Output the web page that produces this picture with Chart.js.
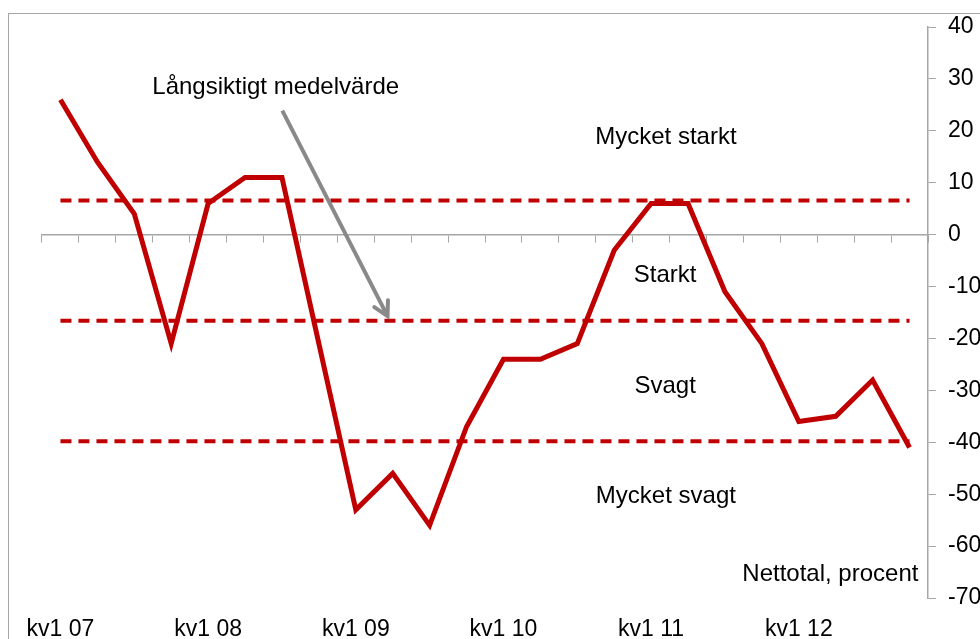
<!DOCTYPE html>
<html>
<head>
<meta charset="utf-8">
<script src="https://cdn.jsdelivr.net/npm/chart.js@4"></script>
<style>
  html, body { margin: 0; padding: 0; background: #fff; }
  #wrap { width: 980px; height: 639px; }
</style>
</head>
<body>
<div id="wrap"><canvas id="chart" width="980" height="639"></canvas></div>
<script>
// kvartal, 2007-2012
var quarters = ['kv1 07','kv2 07','kv3 07','kv4 07','kv1 08','kv2 08','kv3 08','kv4 08',
                'kv1 09','kv2 09','kv3 09','kv4 09','kv1 10','kv2 10','kv3 10','kv4 10',
                'kv1 11','kv2 11','kv3 11','kv4 11','kv1 12','kv2 12','kv3 12','kv4 12'];
// nettotal, procent
var nettotal = [26, 14, 4, -21, 6, 11, 11, -21, -53, -46, -56, -37,
                -24, -24, -21, -3, 6, 6, -11, -21, -36, -35, -28, -41];
// langsiktigt medelvarde +/- en standardavvikelse
var overGrans = 6.6;
var medel = -16.6;
var underGrans = -39.8;
var yTicks = { min: -70, max: 40, step: 10 };

var rod = '#C00000';
var gra = '#a6a6a6';
var textFont = '24px "Liberation Sans", Arial, sans-serif';

// texter i diagrammet: [text, kategori-index, varde, justering]
var notes = [
  ['Långsiktigt medelvärde', 5.83, 28.4, 'center'],
  ['Mycket starkt', 16.4, 18.8, 'center'],
  ['Starkt', 16.38, -7.9, 'center'],
  ['Svagt', 16.38, -29.2, 'center'],
  ['Mycket svagt', 16.4, -50.5, 'center'],
  ['Nettotal, procent', 23.24, -65.4, 'right']
];
// pil fran texten ner till medelvardet
var pil = { fran: [6.01, 23.9], till: [8.86, -15.7] };

var notePlugin = {
  id: 'notes',
  beforeDraw: function (chart) {
    var ctx = chart.ctx;
    ctx.save();
    ctx.strokeStyle = gra;
    ctx.lineWidth = 1;
    ctx.strokeRect(8.5, 13.5, 1200, 1000);
    ctx.restore();
  },
  afterDatasetsDraw: function (chart) {
    var ctx = chart.ctx;
    var x = chart.scales.x, y = chart.scales.y;
    ctx.save();
    // pilen
    var x1 = x.getPixelForValue(pil.fran[0]), y1 = y.getPixelForValue(pil.fran[1]);
    var x2 = x.getPixelForValue(pil.till[0]), y2 = y.getPixelForValue(pil.till[1]);
    ctx.strokeStyle = '#898989';
    ctx.lineWidth = 4;
    ctx.lineCap = 'butt';
    ctx.beginPath();
    ctx.moveTo(x1, y1);
    ctx.lineTo(x2, y2);
    ctx.stroke();
    var ang = Math.atan2(y2 - y1, x2 - x1);
    var len = 16;
    ctx.lineCap = 'round';
    ctx.beginPath();
    ctx.moveTo(x2 - len * Math.cos(ang - 0.5), y2 - len * Math.sin(ang - 0.5));
    ctx.lineTo(x2, y2);
    ctx.lineTo(x2 - len * Math.cos(ang + 0.5), y2 - len * Math.sin(ang + 0.5));
    ctx.stroke();
    // texterna
    ctx.fillStyle = '#000';
    ctx.font = textFont;
    ctx.textBaseline = 'middle';
    notes.forEach(function (n) {
      ctx.textAlign = n[3];
      ctx.fillText(n[0], x.getPixelForValue(n[1]), y.getPixelForValue(n[2]));
    });
    ctx.restore();
  }
};

var ctx = document.getElementById('chart');
new Chart(ctx, {
  type: 'line',
  data: {
    labels: quarters,
    datasets: [
      { data: quarters.map(function () { return overGrans; }), borderColor: rod, borderWidth: 4, borderDash: [11, 7], pointRadius: 0 },
      { data: quarters.map(function () { return medel; }), borderColor: rod, borderWidth: 4, borderDash: [11, 7], pointRadius: 0 },
      { data: quarters.map(function () { return underGrans; }), borderColor: rod, borderWidth: 4, borderDash: [11, 7], pointRadius: 0 },
      { label: 'Nettotal', data: nettotal, borderColor: rod, borderWidth: 5, pointRadius: 0, tension: 0, borderJoinStyle: 'miter' }
    ]
  },
  options: {
    responsive: false,
    animation: false,
    layout: { padding: { left: 42, top: 27, right: 0, bottom: 0 } },
    plugins: { legend: { display: false }, tooltip: { enabled: false } },
    scales: {
      x: {
        type: 'category',
        position: 'bottom',
        offset: true,
        grid: { display: false },
        border: { display: false },
        afterFit: function (s) { s.height = 41; },
        ticks: {
          autoSkip: false,
          maxRotation: 0,
          padding: 10,
          color: '#000',
          font: { family: '"Liberation Sans", Arial, sans-serif', size: 23 },
          callback: function (v, i) { return i % 4 === 0 ? quarters[i] : ''; }
        }
      },
      x0: {
        type: 'category',
        position: { y: 0 },
        offset: true,
        grid: { offset: true, drawOnChartArea: false, tickLength: 7, color: gra, lineWidth: 1 },
        border: { color: gra, width: 1.5 },
        ticks: { display: false }
      },
      y: {
        position: 'right',
        min: yTicks.min,
        max: yTicks.max,
        afterFit: function (s) { s.width = 52; },
        grid: { drawOnChartArea: false, tickLength: 8, color: gra },
        border: { color: gra, width: 1.5 },
        ticks: {
          stepSize: yTicks.step,
          padding: 12,
          color: '#000',
          font: { family: '"Liberation Sans", Arial, sans-serif', size: 23 }
        }
      }
    }
  },
  plugins: [notePlugin]
});
</script>
</body>
</html>
